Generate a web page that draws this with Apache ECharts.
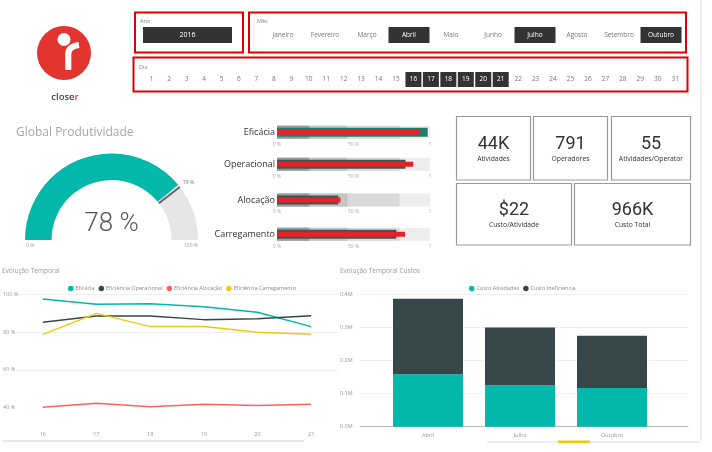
<!DOCTYPE html>
<html><head><meta charset="utf-8">
<script src="https://cdn.jsdelivr.net/npm/echarts@6/dist/echarts.min.js"></script>
<style>html,body{margin:0;padding:0;background:#fff}#c{width:712px;height:452px}</style>
</head><body><div id="c"></div>
<script>
// ---------------- DATA ----------------
const years = ['2016'];
const months = ['Janeiro','Fevereiro','Março','Abril','Maio','Junho','Julho','Agosto','Setembro','Outubro'];
const selectedMonths = ['Abril','Julho','Outubro'];
const dayNumbers = [1,2,3,4,5,6,7,8,9,10,11,12,13,14,15,16,17,18,19,20,21,22,23,24,25,26,27,28,29,30,31];
const selectedDays = [16,17,18,19,20,21];

const gaugeTitle = 'Global Produtividade';
const gaugeValue = 78;
const gaugeTarget = 79;

const bulletNames = ['Eficácia','Operacional','Alocação','Carregamento'];
const bulletBands = [21, 46, 80, 100];
const bulletValues = [98.5, 84, 40, 78];
const bulletTargets = [93.5, 89, 41.5, 83.7];
const bulletTicks = [0, 50, 100];

const kpiValues = ['44K','791','55','$22','966K'];
const kpiLabels = ['Atividades','Operadores','Atividades/Operator','Custo/Atividade','Custo Total'];

const lineTitle = 'Evolução Temporal';
const lineDays = ['16','17','18','19','20','21'];
const lineNames = ['Eficácia','Eficiência Operacional','Eficiência Alocação','Eficiência Carregamento'];
const eficacia = [97.5, 94.7, 95.0, 93.4, 90.5, 82.9];
const eficienciaOperacional = [85.2, 88.5, 88.5, 86.6, 87.1, 88.7];
const eficienciaAlocacao = [40.2, 42.3, 40.5, 41.8, 41.1, 41.8];
const eficienciaCarregamento = [78.8, 89.9, 82.9, 82.9, 79.9, 78.8];

const barTitle = 'Evolução Temporal Custos';
const costMonths = ['Abril','Julho','Outubro'];
const costNames = ['Custo Atividades','Custo Ineficiencia'];
const custoAtividades = [0.158, 0.125, 0.117];
const custoIneficiencia = [0.228, 0.174, 0.157];

// ---------------- STYLE ----------------
const F = '"Open Sans", sans-serif';
const TEAL = '#01B8AA', DARK = '#374649', RED = '#FD625E', YEL = '#F2C80F';
const BORDER = '#e00000';

const chart = echarts.init(document.getElementById('c'), null, {renderer:'canvas'});

// ---------------- GRAPHIC (layout decor / slicers / cards) ----------------
const g = [];
// logo
g.push({type:'circle', shape:{cx:64, cy:53, r:27}, style:{fill:'#e2352f'}});
g.push({type:'circle', shape:{cx:64, cy:39.5, r:6.5}, style:{fill:'#fff'}});
g.push({type:'line', shape:{x1:68.3, y1:70, x2:68.3, y2:53}, style:{stroke:'#fff', lineWidth:6}});
g.push({type:'bezierCurve', shape:{x1:68.3, y1:54, x2:79, y2:45, cpx1:68.3, cpy1:46.5}, style:{stroke:'#fff', lineWidth:6, fill:null}});
g.push({type:'text', x:65, y:97, style:{text:'{a|close}{b|r}', rich:{a:{fontSize:9.5, fill:'#444', fontFamily:F, fontWeight:600}, b:{fontSize:9.5, fill:'#e2352f', fontFamily:F, fontWeight:600}}, align:'center', verticalAlign:'middle'}});

// Ano slicer
g.push({type:'rect', shape:{x:135, y:12.5, width:108, height:40}, style:{fill:null, stroke:BORDER, lineWidth:2}});
g.push({type:'text', x:140, y:21, style:{text:'Ano', fontSize:5.5, fill:'#888', fontFamily:F, verticalAlign:'middle'}});
years.forEach((y,i)=>{
  g.push({type:'rect', shape:{x:143, y:27, width:89, height:16}, style:{fill:'#333'}});
  g.push({type:'text', x:187.5, y:35, style:{text:y, fontSize:7, fill:'#fff', fontFamily:F, align:'center', verticalAlign:'middle'}});
});
// Mês slicer
g.push({type:'rect', shape:{x:249, y:12.5, width:437, height:40}, style:{fill:null, stroke:BORDER, lineWidth:2}});
g.push({type:'text', x:257, y:21, style:{text:'Mês', fontSize:5.5, fill:'#888', fontFamily:F, verticalAlign:'middle'}});
months.forEach((m,i)=>{
  const cx = 283 + 42*i;
  const sel = selectedMonths.indexOf(m) >= 0;
  if (sel) g.push({type:'rect', shape:{x:cx-20.5, y:27, width:41, height:16}, style:{fill:'#333'}});
  g.push({type:'text', x:cx, y:35, style:{text:m, fontSize:6.5, fill: sel ? '#fff' : '#777', fontFamily:F, align:'center', verticalAlign:'middle'}});
});
// Dia slicer
g.push({type:'rect', shape:{x:133.5, y:57.5, width:554, height:34}, style:{fill:null, stroke:BORDER, lineWidth:2}});
g.push({type:'text', x:139, y:67.5, style:{text:'Dia', fontSize:5.5, fill:'#888', fontFamily:F, verticalAlign:'middle'}});
dayNumbers.forEach((d,i)=>{
  const cx = 151.7 + 17.45*i;
  const sel = selectedDays.indexOf(d) >= 0;
  if (sel) g.push({type:'rect', shape:{x:cx-8, y:72, width:16, height:15}, style:{fill:'#333'}});
  g.push({type:'text', x:cx, y:79.5, style:{text:String(d), fontSize:6.5, fill: sel ? '#fff' : '#777', fontFamily:F, align:'center', verticalAlign:'middle'}});
});

// right divider
g.push({type:'line', shape:{x1:701, y1:0, x2:701, y2:441}, style:{stroke:'#e2e2e2', lineWidth:1}});

// gauge title and end labels
g.push({type:'text', x:16, y:133, style:{text:gaugeTitle, fontSize:12, fill:'#a6a6a6', fontFamily:F, verticalAlign:'middle'}});
g.push({type:'text', x:26, y:246, style:{text:'0 %', fontSize:5, fill:'#999', fontFamily:F, verticalAlign:'middle'}});
g.push({type:'text', x:198, y:246, style:{text:'100 %', fontSize:5, fill:'#999', fontFamily:F, align:'right', verticalAlign:'middle'}});

// KPI cards
const cards = [
  {x:456.5, y:116.5, w:74, h:63.5},
  {x:533.5, y:116.5, w:74, h:63.5},
  {x:611.5, y:116.5, w:79, h:63.5},
  {x:456.5, y:183.5, w:115, h:61.5},
  {x:574.5, y:183.5, w:116, h:61.5}
];
cards.forEach((c,i)=>{
  g.push({type:'rect', shape:{x:c.x, y:c.y, width:c.w, height:c.h}, style:{fill:'#fff', stroke:'#9a9a9a', lineWidth:1.2}});
  g.push({type:'text', x:c.x + c.w/2, y:c.y + c.h/2 - 4, style:{text:kpiValues[i], fontSize:18, fill:'#333', fontFamily:'Roboto, sans-serif', fontWeight:'normal', align:'center', verticalAlign:'middle'}});
  g.push({type:'text', x:c.x + c.w/2, y:c.y + c.h/2 + 11, style:{text:kpiLabels[i], fontSize:6.8, fill:'#333', fontFamily:F, align:'center', verticalAlign:'middle'}});
});

// chart titles
g.push({type:'text', x:2, y:271, style:{text:lineTitle, fontSize:6.5, fill:'#999', fontFamily:F, verticalAlign:'middle'}});
g.push({type:'text', x:340, y:271, style:{text:barTitle, fontSize:6.5, fill:'#999', fontFamily:F, verticalAlign:'middle'}});

// scrollbar remnants at bottom
g.push({type:'line', shape:{x1:3, y1:441, x2:304, y2:441}, style:{stroke:'#cfcfcf', lineWidth:1}});
g.push({type:'line', shape:{x1:487, y1:442, x2:700, y2:442}, style:{stroke:'#e0e0e0', lineWidth:1}});
g.push({type:'rect', shape:{x:558, y:440.5, width:32, height:2.5}, style:{fill:YEL}});

// ---------------- AXES / GRIDS ----------------
const grids = [], xAxes = [], yAxes = [], series = [];
const bulletCY = [132.3, 164.3, 200, 234.3];
bulletNames.forEach((name, i)=>{
  grids.push({left:277, width:153, top:bulletCY[i]-6.5, height:13});
  xAxes.push({gridIndex:i, type:'value', min:0, max:100, interval:50,
    axisLine:{show:false}, axisTick:{show:false}, splitLine:{show:false},
    axisLabel:{fontSize:5, color:'#aaa', margin:3, fontFamily:F,
      formatter: v => v === bulletTicks[2] ? '1' : v + ' %'}});
  const yBase = yAxes.length;
  yAxes.push({gridIndex:i, type:'category', data:[name], axisLine:{show:false}, axisTick:{show:false},
    axisLabel:{fontSize:9, color:'#333', margin:2, fontFamily:F}});
  yAxes.push({gridIndex:i, type:'category', data:[name], show:false});
  yAxes.push({gridIndex:i, type:'category', data:[name], show:false});
  const bandColors = ['#ededed','#dadada','#c4c4c4','#9a9a9a'];
  [3,2,1,0].forEach((b,k)=>{
    series.push({type:'bar', xAxisIndex:i, yAxisIndex:yBase, data:[bulletBands[b]], barWidth:13, barGap:'-100%',
      itemStyle:{color:bandColors[k]}, silent:true});
  });
  series.push({type:'bar', xAxisIndex:i, yAxisIndex:yBase+1, data:[bulletValues[i]], barWidth:9,
    itemStyle:{color: i === 0 ? '#1f7f6c' : '#3b5955'}, silent:true});
  series.push({type:'bar', xAxisIndex:i, yAxisIndex:yBase+2, data:[bulletTargets[i]], barWidth:5,
    itemStyle:{color:'#e8202a'}, silent:true});
});

// line chart grid (index 4)
grids.push({left:16, width:322, top:294.3, height:113.4});
xAxes.push({gridIndex:4, type:'category', data:lineDays, boundaryGap:true,
  axisLine:{show:false}, axisTick:{show:false},
  axisLabel:{fontSize:5.5, color:'#999', margin:24, fontFamily:F}});
const lineY = yAxes.length;
yAxes.push({gridIndex:4, type:'value', min:40, max:100, interval:20,
  axisLine:{show:false}, axisTick:{show:false},
  axisLabel:{fontSize:5.5, color:'#999', margin:13, align:'left', fontFamily:F, formatter:'{value} %'},
  splitLine:{lineStyle:{color:['rgba(0,0,0,0)','#eeeeee','#eeeeee','#eeeeee'], width:1}}});
const lineColors = [TEAL, DARK, RED, YEL];
[eficacia, eficienciaOperacional, eficienciaAlocacao, eficienciaCarregamento].forEach((d,k)=>{
  series.push({type:'line', name:lineNames[k], xAxisIndex:4, yAxisIndex:lineY, data:d,
    showSymbol:false, symbol:'circle', lineStyle:{width:1.5, color:lineColors[k]}, itemStyle:{color:lineColors[k]}, silent:true});
});

// bar backdrop grid (index 5)
grids.push({left:360, right:24, top:294, height:132.7});
xAxes.push({gridIndex:5, type:'value', min:0, max:1, axisLine:{show:true, lineStyle:{color:'#bbb'}},
  axisTick:{show:false}, axisLabel:{show:false}, splitLine:{show:false}});
const backY = yAxes.length;
yAxes.push({gridIndex:5, type:'value', min:0, max:0.4, interval:0.1,
  axisLine:{show:false}, axisTick:{show:false},
  axisLabel:{fontSize:5.5, color:'#999', margin:20, align:'left', fontFamily:F, formatter: v => v.toFixed(1) + 'M'},
  splitLine:{lineStyle:{color:'#eeeeee'}}});

// bar grid (index 6)
grids.push({left:382, width:276, top:294, height:132.7});
xAxes.push({gridIndex:6, type:'category', data:costMonths,
  axisLine:{show:false}, axisTick:{show:false},
  axisLabel:{fontSize:5.5, color:'#999', margin:6, fontFamily:F}});
const barY = yAxes.length;
yAxes.push({gridIndex:6, type:'value', min:0, max:0.4, show:false, splitLine:{show:false}});
series.push({type:'bar', name:costNames[0], xAxisIndex:6, yAxisIndex:barY, stack:'c', data:custoAtividades,
  barWidth:70, itemStyle:{color:TEAL}, silent:true});
series.push({type:'bar', name:costNames[1], xAxisIndex:6, yAxisIndex:barY, stack:'c', data:custoIneficiencia,
  barWidth:70, itemStyle:{color:DARK}, silent:true});

// gauges
series.push({type:'gauge', center:[111.5, 240], radius:86.5, startAngle:180, endAngle:0, min:0, max:100,
  progress:{show:true, width:26.5, roundCap:false, itemStyle:{color:TEAL}},
  axisLine:{roundCap:false, lineStyle:{width:26.5, color:[[1,'#e6e6e6']]}},
  pointer:{show:false}, axisTick:{show:false}, splitLine:{show:false}, axisLabel:{show:false},
  anchor:{show:false}, title:{show:false},
  detail:{offsetCenter:[0,-16], formatter:'{value} %', fontSize:26, color:'#555', fontWeight:300, fontFamily:'Roboto, sans-serif'},
  data:[{value:gaugeValue}], silent:true, animation:false});
series.push({type:'gauge', center:[111.5, 240], radius:86.5, startAngle:180, endAngle:0, min:0, max:100,
  progress:{show:false}, axisLine:{show:false}, axisTick:{show:false}, splitLine:{show:false}, axisLabel:{show:false},
  pointer:{show:true, icon:'rect', length:26.5, width:2, offsetCenter:[0,-60], itemStyle:{color:'#666'}},
  anchor:{show:false}, title:{show:false},
  detail:{offsetCenter:[77,-57], formatter:'{value} %', fontSize:5, color:'#777', fontWeight:'normal', fontFamily:F},
  data:[{value:gaugeTarget}], silent:true, animation:false});

chart.setOption({
  animation:false,
  backgroundColor:'#fff',
  textStyle:{fontFamily:F},
  grid:grids, xAxis:xAxes, yAxis:yAxes, series:series,
  legend:[
    {data:lineNames, left:63, top:280.5, icon:'circle', itemWidth:5.5, itemHeight:5.5, itemGap:4,
      textStyle:{fontSize:5.5, color:'#888', fontFamily:F, padding:[0,0,0,-3]}, selectedMode:false},
    {data:costNames, left:464, top:280.5, icon:'circle', itemWidth:5.5, itemHeight:5.5, itemGap:4,
      textStyle:{fontSize:5.5, color:'#888', fontFamily:F, padding:[0,0,0,-3]}, selectedMode:false}
  ],
  graphic:g
});
</script></body></html>
